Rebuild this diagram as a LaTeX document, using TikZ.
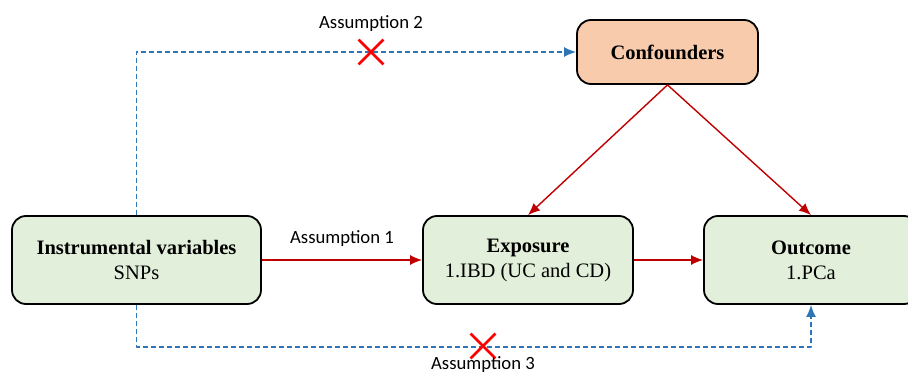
\documentclass[tikz,border=0pt]{standalone}
\usepackage{fontspec}
\setmainfont{Liberation Serif}
\newfontfamily\labelfont{Carlito}
\usepackage{tikz}
\usetikzlibrary{arrows.meta,%
                shapes.misc,positioning}
\definecolor{boxgreen}{HTML}{E2EFDA}
\definecolor{boxorange}{HTML}{F8CBAD}
\definecolor{linered}{HTML}{C00000}
\definecolor{lineblue}{HTML}{2E75B6}
\tikzstyle{varbox}=[rectangle,rounded corners=14pt,draw=black,line width=1.8pt,fill=boxgreen,minimum height=88pt,align=center,font=\fontsize{20.5}{25}\selectfont]
\tikzstyle{confbox}=[varbox,fill=boxorange,minimum height=64pt]
\tikzstyle{causal}=[draw=linered,line width=1.4pt,-{Latex[length=12pt,width=10pt]}]
\tikzstyle{violated}=[draw=lineblue,line width=1.7pt,dash pattern=on 5pt off 3pt,-{Latex[length=12pt,width=10pt]}]
\tikzstyle{xmark}=[cross out,draw=red,line width=2.8pt,minimum size=22pt,inner sep=0pt]
\tikzstyle{assum}=[font=\labelfont\fontsize{18.7}{21}\selectfont]

\begin{document}
\begin{tikzpicture}[x=1pt,y=-1pt,line join=bevel]
	  \useasboundingbox (0,0) rectangle (908,374);
	  \node (I) at (136.5,260) [varbox,minimum width=249pt] {\textbf{Instrumental variables}\\SNPs};
	  \node (E) at (528,260) [varbox,minimum width=210pt] {\textbf{Exposure}\\1.IBD (UC and CD)};
	  \node (O) at (811,260) [varbox,minimum width=214pt] {\textbf{Outcome}\\1.PCa};
	  \node (C) at (667.5,52) [confbox,minimum width=181pt] {\textbf{Confounders}};
	  \draw [causal] (I) -- (E);
	  \draw [causal] (E) -- (O);
	  \draw [causal] (C.south) -- (E.north);
	  \draw [causal] (C.south) -- (O.north);
	  \draw [violated] (I.north) |- (C.west);
	  \draw [violated] (I.south) -- ++(0,42) -| (O.south);
	  \node (x2) at (371,52) [xmark] {};
	  \node (x3) at (483,346) [xmark] {};
	  \node (a1) at (342,239) [assum] {Assumption 1};
	  \node (a2) at (371,24) [assum] {Assumption 2};
	  \node (a3) at (483,365) [assum] {Assumption 3};
    %
    \end{tikzpicture}
\end{document}
